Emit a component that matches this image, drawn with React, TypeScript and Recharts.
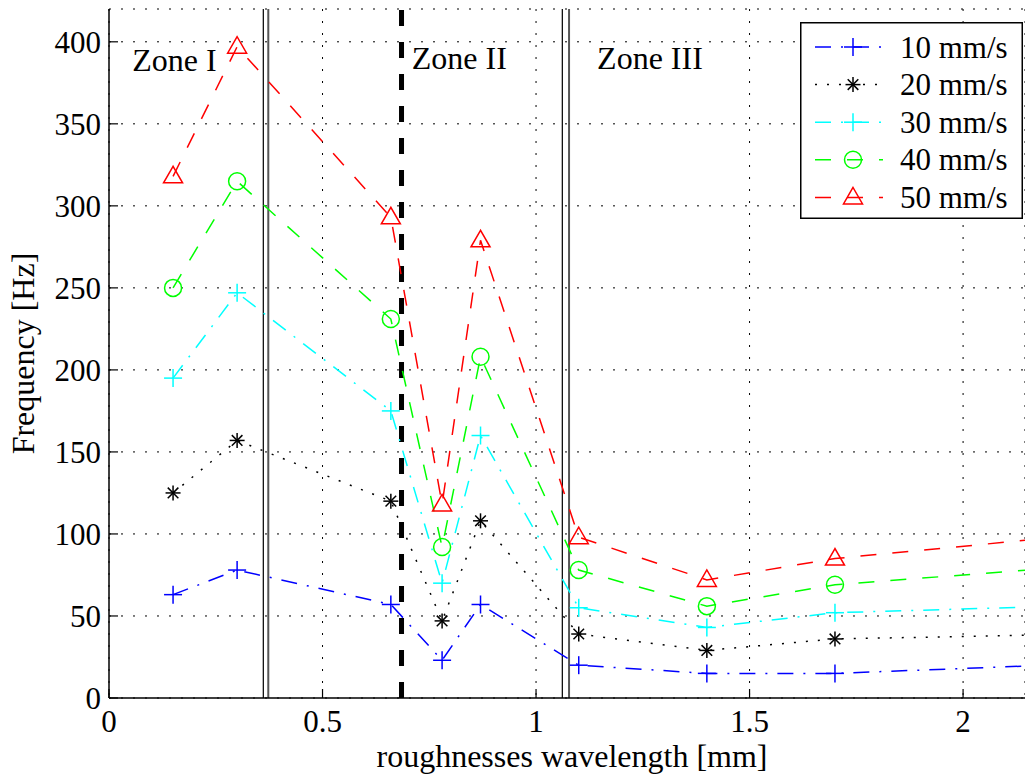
import React from 'react';
import {
  LineChart,
  Line,
  XAxis,
  YAxis,
  CartesianGrid,
  ReferenceLine,
  ReferenceDot,
  Legend,
} from 'recharts';

// ---------------- data ----------------
const wavelengths = [0.15, 0.3, 0.66, 0.78, 0.87, 1.1, 1.4, 1.7, 2.5];
const freq10 = [63, 78, 57, 23, 57, 20, 15, 15, 23];
const freq20 = [125, 157, 120, 47, 108, 39, 29, 36, 40];
const freq30 = [195, 247, 175, 70, 160, 55, 43, 52, 58];
const freq40 = [250, 315, 231, 92, 208, 78, 56, 69, 85];
const freq50 = [318, 397, 293, 118, 279, 98, 72, 85, 105];

const seriesNames = ['10 mm/s', '20 mm/s', '30 mm/s', '40 mm/s', '50 mm/s'];
const seriesKeys = ['s10', 's20', 's30', 's40', 's50'];
const seriesValues = [freq10, freq20, freq30, freq40, freq50];

const xTicks = [0, 0.5, 1, 1.5, 2];
const yTicks = [0, 50, 100, 150, 200, 250, 300, 350, 400];
const xDomain = [0, 2.145];
const yDomain = [0, 420];

// zone boundaries (thin double lines) and the thick dashed separator
const thinBoundaries = [0.3614, 0.373, 1.0616, 1.0773];
const dashedBoundary = 0.685;
const zoneLabels = ['Zone I', 'Zone II', 'Zone III'];
const zoneLabelX = [0.0545, 0.709, 1.143];
const zoneLabelY = [382, 383.5, 383.5];

// ---------------- styles ----------------
const FONT = '"Liberation Serif", "Times New Roman", Times, serif';
const FS = 31;
const FS_TITLE = 32;

const seriesStyle = [
  { color: '#0000ff', dash: '16 10 2 10', shape: 'plus' },
  { color: '#000000', dash: '2 10', shape: 'star' },
  { color: '#00ffff', dash: '16 10 2 10', shape: 'plus' },
  { color: '#00ff00', dash: '16 16', shape: 'circle' },
  { color: '#ff0000', dash: '16 16', shape: 'triangle' },
];

const data = wavelengths.map((w, i) => {
  const row: Record<string, number> = { w };
  seriesKeys.forEach((k, j) => {
    row[k] = seriesValues[j][i];
  });
  return row;
});

function Marker({ shape, color, cx, cy }: { shape: string; color: string; cx: number; cy: number }) {
  const sw = 1.5;
  if (shape === 'plus') {
    const h = 9;
    return (
      <g stroke={color} strokeWidth={sw} fill="none">
        <line x1={cx - h} y1={cy} x2={cx + h} y2={cy} />
        <line x1={cx} y1={cy - h} x2={cx} y2={cy + h} />
      </g>
    );
  }
  if (shape === 'star') {
    const h = 7.5;
    const d = 5.3;
    return (
      <g stroke={color} strokeWidth={sw} fill="none">
        <line x1={cx - h} y1={cy} x2={cx + h} y2={cy} />
        <line x1={cx} y1={cy - h} x2={cx} y2={cy + h} />
        <line x1={cx - d} y1={cy - d} x2={cx + d} y2={cy + d} />
        <line x1={cx - d} y1={cy + d} x2={cx + d} y2={cy - d} />
      </g>
    );
  }
  if (shape === 'circle') {
    return <circle cx={cx} cy={cy} r={8.5} stroke={color} strokeWidth={sw} fill="none" />;
  }
  // triangle
  const pts = `${cx},${cy - 10} ${cx - 9.5},${cy + 6.5} ${cx + 9.5},${cy + 6.5}`;
  return <polygon points={pts} stroke={color} strokeWidth={sw} fill="none" />;
}

const LegendBox = () => (
  <svg width={223} height={197} style={{ display: 'block' }}>
    <rect x={0.75} y={0.75} width={221.5} height={195.5} fill="#ffffff" stroke="#000" strokeWidth={1.5} />
    {seriesNames.map((name, i) => {
      const s = seriesStyle[i];
      const cy = 25 + i * 37.6;
      return (
        <g key={name}>
          <line x1={15} x2={83} y1={cy} y2={cy} stroke={s.color} strokeWidth={1.5} strokeDasharray={s.dash} />
          <Marker shape={s.shape} color={s.color} cx={53} cy={cy} />
          <text x={100} y={cy + 10.5} fontSize={FS} fontFamily={FONT} fill="#000">
            {name}
          </text>
        </g>
      );
    })}
  </svg>
);

const YTitle = (props: any) => {
  const vb = props.viewBox || { x: 0, y: 9, width: 109, height: 689 };
  const cx = 34;
  const cy = vb.y + vb.height / 2;
  return (
    <text
      x={cx}
      y={cy}
      transform={`rotate(-90 ${cx} ${cy})`}
      textAnchor="middle"
      fontSize={FS_TITLE}
      fontFamily={FONT}
      fill="#000"
    >
      Frequency [Hz]
    </text>
  );
};

const XTitle = (props: any) => {
  const vb = props.viewBox || { x: 109, y: 698, width: 916, height: 77 };
  return (
    <text
      x={vb.x + vb.width / 2 + 5}
      y={vb.y + 69}
      textAnchor="middle"
      fontSize={FS_TITLE}
      fontFamily={FONT}
      fill="#000"
    >
      roughnesses wavelength [mm]
    </text>
  );
};

const ZoneText = (props: any) => {
  const vb = props.viewBox;
  return (
    <text x={vb.x} y={vb.y} textAnchor="start" fontSize={FS_TITLE} fontFamily={FONT} fill="#000">
      {props.text}
    </text>
  );
};

const tickStyle = { fill: '#000', fontSize: FS, fontFamily: FONT };

export default function App() {
  return (
    <div style={{ position: 'absolute', left: 0, top: 0, width: 1025, height: 775, background: '#fff' }}>
      <LineChart width={1025} height={775} data={data} margin={{ top: 9, right: 0, bottom: 0, left: 0 }}>
        <CartesianGrid stroke="#000" strokeWidth={1} strokeDasharray="2 10" xAxisId={0} yAxisId={0} />
        <XAxis
          xAxisId={0}
          type="number"
          dataKey="w"
          domain={xDomain}
          allowDataOverflow
          ticks={xTicks}
          interval={0}
          tickFormatter={(v: number) => String(v)}
          height={77}
          tickSize={-9}
          tickMargin={21}
          axisLine={{ stroke: '#000', strokeWidth: 1.5 }}
          tickLine={{ stroke: '#000', strokeWidth: 1.2 }}
          tick={tickStyle}
          label={<XTitle />}
        />
        <XAxis
          xAxisId="top"
          orientation="top"
          type="number"
          dataKey="w"
          domain={xDomain}
          allowDataOverflow
          ticks={xTicks}
          interval={0}
          height={0}
          tickSize={-9}
          axisLine={{ stroke: '#000', strokeWidth: 1.5 }}
          tickLine={{ stroke: '#000', strokeWidth: 1.2 }}
          tick={false}
        />
        <YAxis
          yAxisId={0}
          type="number"
          domain={yDomain}
          allowDataOverflow
          ticks={yTicks}
          interval={0}
          width={109}
          tickSize={-9}
          tickMargin={17}
          axisLine={{ stroke: '#000', strokeWidth: 1.5 }}
          tickLine={{ stroke: '#000', strokeWidth: 1.2 }}
          tick={tickStyle}
          label={<YTitle />}
        />
        {thinBoundaries.map((x, i) => (
          <ReferenceLine
            key={`b${i}`}
            x={x}
            xAxisId={0}
            yAxisId={0}
            stroke={i % 2 === 0 ? '#111' : '#555'}
            strokeWidth={i % 2 === 0 ? 1.3 : 2}
          />
        ))}
        <ReferenceLine x={dashedBoundary} xAxisId={0} yAxisId={0} stroke="#000" strokeWidth={5} strokeDasharray="16 16" />
        {zoneLabels.map((z, i) => (
          <ReferenceDot
            key={z}
            x={zoneLabelX[i]}
            y={zoneLabelY[i]}
            xAxisId={0}
            yAxisId={0}
            r={0}
            fill="none"
            stroke="none"
            label={<ZoneText text={z} />}
          />
        ))}
        {seriesKeys.map((k, i) => {
          const s = seriesStyle[i];
          return (
            <Line
              key={k}
              xAxisId={0}
              yAxisId={0}
              dataKey={k}
              name={seriesNames[i]}
              type="linear"
              stroke={s.color}
              strokeWidth={1.5}
              strokeDasharray={s.dash}
              isAnimationActive={false}
              activeDot={false}
              dot={(p: any) => (
                <Marker key={`${k}-${p.index}`} shape={s.shape} color={s.color} cx={p.cx} cy={p.cy} />
              )}
            />
          );
        })}
        <Legend
          layout="vertical"
          align="center"
          verticalAlign="middle"
          wrapperStyle={{ position: 'absolute', left: 800, top: 22, width: 223, height: 197 }}
          content={() => <LegendBox />}
        />
      </LineChart>
    </div>
  );
}
